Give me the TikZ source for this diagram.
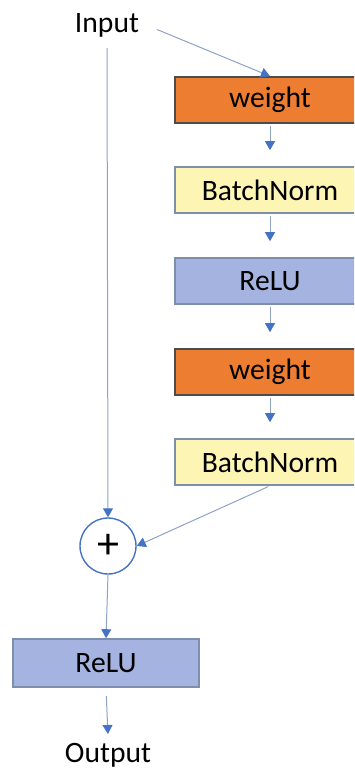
\documentclass[tikz,border=0pt]{standalone}
\usepackage{fontspec}
\setmainfont{Carlito}
\usetikzlibrary{arrows.meta,positioning}
\definecolor{wfill}{HTML}{ED7D31}
\definecolor{bnfill}{HTML}{FDF5B3}
\definecolor{relufill}{HTML}{A4B3DF}
\definecolor{boxedge}{HTML}{7D8FAD}
\definecolor{tipblue}{HTML}{4472C4}
\definecolor{lineblue}{HTML}{8EA2C8}
\tikzset{>=latex}

\begin{document}
\begin{tikzpicture}[x=0.5pt,y=-0.5pt,
    txt/.style={font=\fontsize{14.8}{18}\selectfont},
    layer/.style={txt,draw=boxedge,line width=0.8pt,minimum width=95pt,minimum height=23pt,inner sep=0pt},
    conn/.style={draw=lineblue,line width=0.5pt,-{Triangle[width=5pt,length=4.5pt,color=tipblue]}}]
    \useasboundingbox (0,0) rectangle (354,771);
    \clip (0,0) rectangle (354,771);
    % main branch
    \node [txt] (in) at (107,25) {Input};
    \node [layer,fill=wfill,draw=black!70] (w1) at (270,100) {weight};
    \node [layer,fill=bnfill] (bn1) at (270,190) {BatchNorm};
    \node [layer,fill=relufill] (r1) at (270,281) {ReLU};
    \node [layer,fill=wfill,draw=black!70] (w2) at (270,372) {weight};
    \node [layer,fill=bnfill] (bn2) at (270,462) {BatchNorm};
    % sum and output
    \node [circle,draw=tipblue,line width=0.7pt,minimum size=28pt,inner sep=0pt,
      font=\fontsize{22}{22}\selectfont] (sum) at (108,546) {+};
    \node [layer,fill=relufill,minimum width=93pt,minimum height=24pt] (r2) at (106,663) {ReLU};
    \node [txt] (out) at (108,755) {Output};
    % connectors
    \draw [conn,shorten <=6pt] (in.east) -- (w1.north);
    \draw [conn,shorten <=1pt,shorten >=8pt] (w1.south) -- (bn1.north);
    \draw [conn,shorten <=1pt,shorten >=8pt] (bn1.south) -- (r1.north);
    \draw [conn,shorten <=1pt,shorten >=8pt] (r1.south) -- (w2.north);
    \draw [conn,shorten <=1pt,shorten >=8pt] (w2.south) -- (bn2.north);
    \draw [conn,shorten <=1pt] (bn2.south) -- (sum.east);
    \draw [conn,shorten <=2pt] (in.south) -- (sum.north);
    \draw [conn] (sum.south) -- (r2.north);
    \draw [conn,shorten <=4pt,shorten >=1pt] (r2.south) -- (out.north);
\end{tikzpicture}
\end{document}
